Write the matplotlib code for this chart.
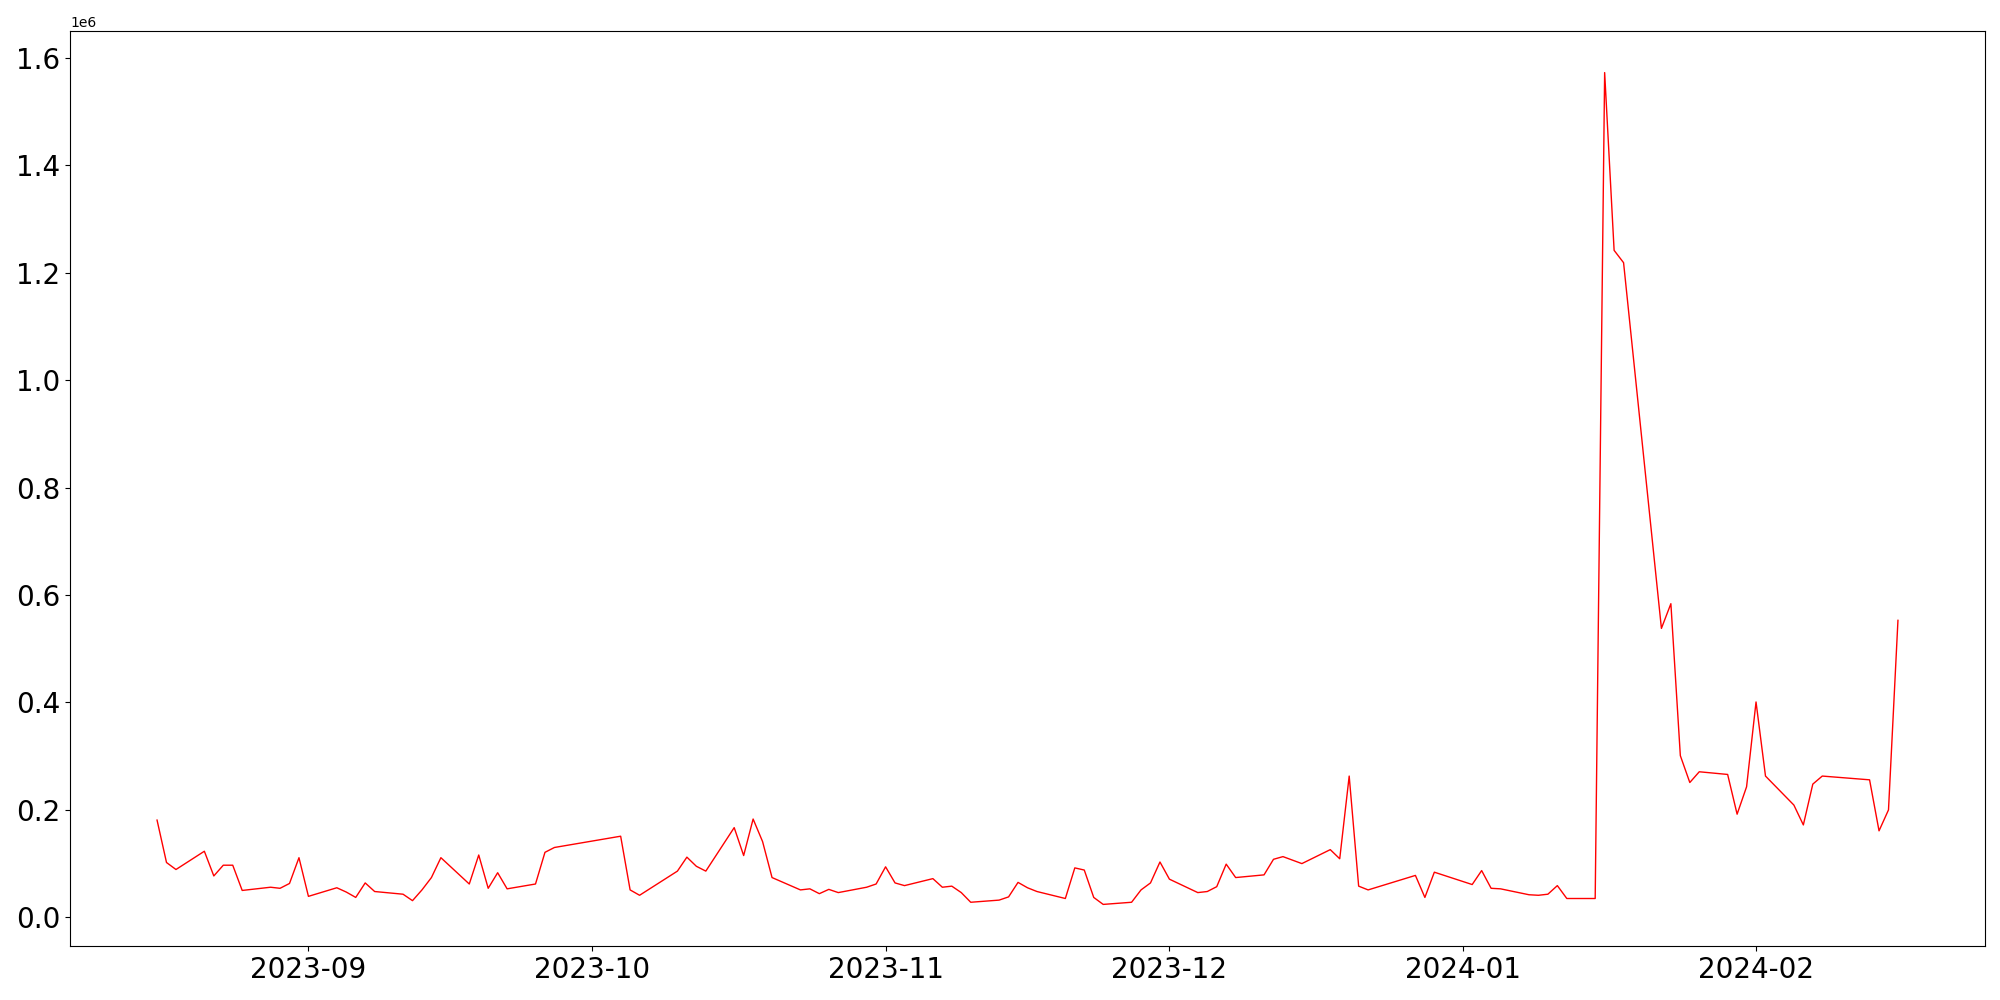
import pandas as pd
import matplotlib
matplotlib.use('Agg')
import matplotlib.pyplot as plt

dates = [
    '2023-08-16', '2023-08-17', '2023-08-18', '2023-08-21', '2023-08-22', '2023-08-23', '2023-08-24',
    '2023-08-25', '2023-08-28', '2023-08-29', '2023-08-30', '2023-08-31', '2023-09-01', '2023-09-04',
    '2023-09-05', '2023-09-06', '2023-09-07', '2023-09-08', '2023-09-11', '2023-09-12', '2023-09-13',
    '2023-09-14', '2023-09-15', '2023-09-18', '2023-09-19', '2023-09-20', '2023-09-21', '2023-09-22',
    '2023-09-25', '2023-09-26', '2023-09-27', '2023-10-04', '2023-10-05', '2023-10-06', '2023-10-10',
    '2023-10-11', '2023-10-12', '2023-10-13', '2023-10-16', '2023-10-17', '2023-10-18', '2023-10-19',
    '2023-10-20', '2023-10-23', '2023-10-24', '2023-10-25', '2023-10-26', '2023-10-27', '2023-10-30',
    '2023-10-31', '2023-11-01', '2023-11-02', '2023-11-03', '2023-11-06', '2023-11-07', '2023-11-08',
    '2023-11-09', '2023-11-10', '2023-11-13', '2023-11-14', '2023-11-15', '2023-11-16', '2023-11-17',
    '2023-11-20', '2023-11-21', '2023-11-22', '2023-11-23', '2023-11-24', '2023-11-27', '2023-11-28',
    '2023-11-29', '2023-11-30', '2023-12-01', '2023-12-04', '2023-12-05', '2023-12-06', '2023-12-07',
    '2023-12-08', '2023-12-11', '2023-12-12', '2023-12-13', '2023-12-15', '2023-12-18', '2023-12-19',
    '2023-12-20', '2023-12-21', '2023-12-22', '2023-12-27', '2023-12-28', '2023-12-29', '2024-01-02',
    '2024-01-03', '2024-01-04', '2024-01-05', '2024-01-08', '2024-01-09', '2024-01-10', '2024-01-11',
    '2024-01-12', '2024-01-15', '2024-01-16', '2024-01-17', '2024-01-18', '2024-01-22', '2024-01-23',
    '2024-01-24', '2024-01-25', '2024-01-26', '2024-01-29', '2024-01-30', '2024-01-31', '2024-02-01',
    '2024-02-02', '2024-02-05', '2024-02-06', '2024-02-07', '2024-02-08', '2024-02-13', '2024-02-14',
    '2024-02-15', '2024-02-16',
]

volume = [
    181000, 102000, 89000, 123000, 77000, 97000, 97000,
    50000, 56000, 54000, 63000, 111000, 39000, 55000,
    47000, 37000, 64000, 48000, 43000, 31000, 51000,
    74000, 111000, 62000, 116000, 54000, 83000, 53000,
    62000, 121000, 130000, 151000, 51000, 41000, 86000,
    112000, 95000, 86000, 167000, 115000, 183000, 141000,
    74000, 51000, 53000, 44000, 52000, 46000, 56000,
    62000, 94000, 64000, 59000, 72000, 56000, 58000,
    46000, 28000, 32000, 38000, 65000, 55000, 48000,
    35000, 92000, 88000, 37000, 24000, 28000, 51000,
    64000, 103000, 71000, 46000, 48000, 57000, 99000,
    74000, 79000, 108000, 113000, 100000, 126000, 109000,
    263000, 58000, 51000, 78000, 37000, 84000, 61000,
    87000, 54000, 53000, 42000, 41000, 43000, 59000,
    35000, 35000, 1573000, 1242000, 1219000, 538000, 584000,
    301000, 251000, 271000, 266000, 192000, 243000, 401000,
    263000, 209000, 172000, 248000, 263000, 256000, 161000,
    200000, 553000,
]

x = pd.to_datetime(dates)

fig, ax = plt.subplots(figsize=(20, 10), dpi=100)
ax.plot(x, volume, color='red', linewidth=1)
plt.xticks(fontsize=20)
plt.yticks(fontsize=20)
plt.subplots_adjust(left=0.035, right=0.9925, top=0.969, bottom=0.054)
plt.savefig('out.png', dpi=100)
